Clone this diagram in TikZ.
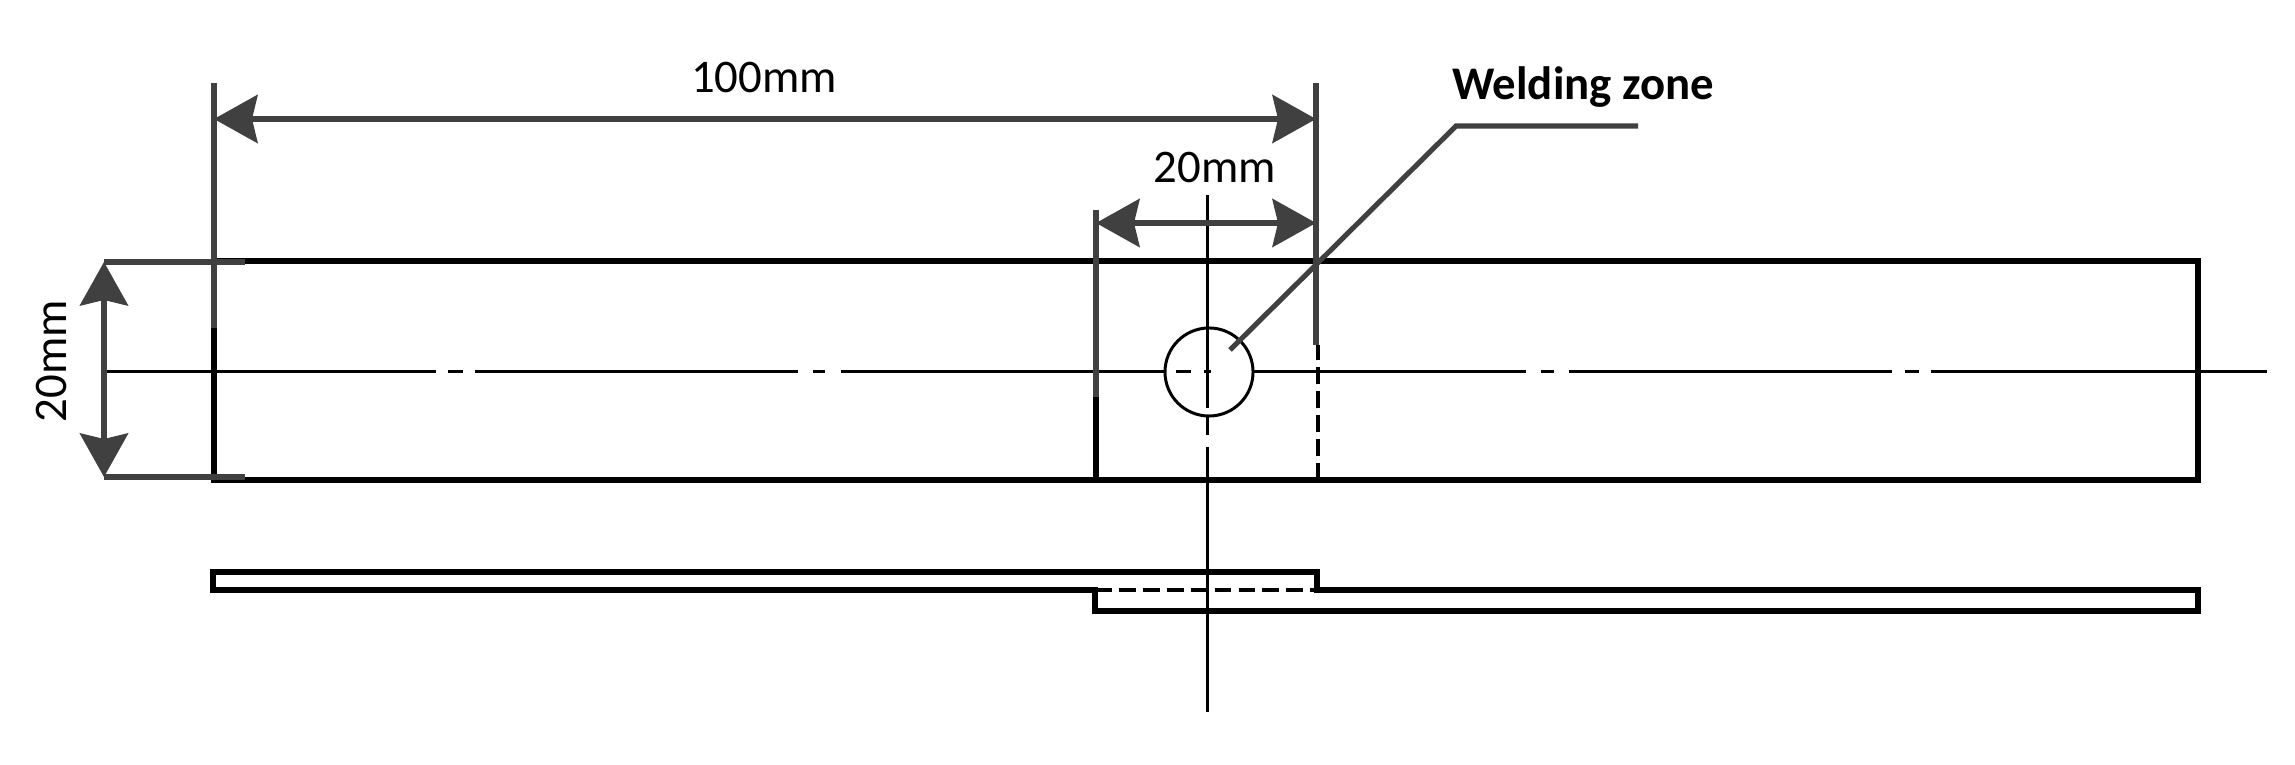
\documentclass[tikz,border=0pt]{standalone}
\usepackage{fontspec}
\setmainfont{Carlito}
\usetikzlibrary{arrows.meta}
\tikzset{
	>={Stealth[length=12.4pt, width=13.7pt, inset=1.6pt]},
	plate/.style={line width=1.7pt, black, line join=miter},
	hidden/.style={line width=0.9pt, black, dash pattern=on 4.8pt off 2pt},
	axis/.style={line width=0.85pt, black},
	dim/.style={line width=1.45pt, draw=dimgrey},
	dimtext/.style={inner sep=0pt, font=\fontsize{13.3}{16}\selectfont},
	spot/.style={circle, draw=black, line width=0.85pt, minimum size=0.88cm, inner sep=0pt}
}
\definecolor{dimgrey}{HTML}{404040}
\begin{document}
\begin{tikzpicture}[x=0.01cm, y=-0.01cm]
		\useasboundingbox (0,0) rectangle (2295,765);
		\coordinate (topleft)    at (214,261);
		\coordinate (topright)   at (2198,261);
		\coordinate (botright)   at (2198,480);
		\coordinate (botleft)    at (214,480);
		\coordinate (lapleft)    at (1096,480);
		\coordinate (lapright)   at (1318,480);
		\coordinate (side1)      at (213,572);
		\coordinate (side2)      at (1317,572);
		\coordinate (side3)      at (1317,590);
		\coordinate (side4)      at (2198,590);
		\coordinate (side5)      at (2198,611);
		\coordinate (side6)      at (1095,611);
		\coordinate (side7)      at (1095,590);
		\coordinate (side8)      at (213,590);
		% plan view
		\draw[plate] (topleft) -- (topright) -- (botright) -- (botleft) -- cycle;
		\draw[plate] (lapleft) -- (1096,397);
		\draw[hidden] (lapright) -- (1318,345);
		% side view
		\draw[plate] (side1) -- (side2) -- (side3) -- (side4) -- (side5) -- (side6) -- (side7) -- (side8) -- cycle;
		\draw[hidden] (side7) -- (side3);
		% axes
		\node[spot] (weld) at (1209,372) {};
		\draw[axis] (107,372) -- (436,372) (448,372) -- (463,372) (475,372) -- (798,372) (813,372) -- (825,372) (841,372) -- (1165,372);
		\draw[axis] (1176,372) -- (1191,372) (1204,372) -- (1211,372);
		\draw[axis] (1253,372) -- (1526,372) (1541,372) -- (1554,372) (1569,372) -- (1892,372) (1905,372) -- (1919,372) (1931,372) -- (2267,372);
		\draw[axis] (1207,195) -- (1207,408) (1207,417) -- (1207,435) (1207,447) -- (1207,712);
		% dimensions
		\coordinate (ext1a) at (214,83);
		\coordinate (ext1b) at (214,328);
		\coordinate (ext2a) at (1316,83);
		\coordinate (ext2b) at (1316,345);
		\coordinate (ext3a) at (1096,210);
		\coordinate (ext3b) at (1096,397);
		\coordinate (ext4a) at (104,262);
		\coordinate (ext4b) at (245,262);
		\coordinate (ext5a) at (104,477);
		\coordinate (ext5b) at (245,477);
		\draw[dim] (ext1a) -- (ext1b);
		\draw[dim] (ext2a) -- (ext2b);
		\draw[dim] (ext3a) -- (ext3b);
		\draw[dim] (ext4a) -- (ext4b);
		\draw[dim] (ext5a) -- (ext5b);
		\draw[dim, <->] (214,119) -- node[dimtext, yshift=0.41cm, xshift=-0.01cm](length){100mm} (1316,119);
		\draw[dim, <->] (1096,223) -- node[dimtext, yshift=0.55cm, xshift=0.09cm](overlap){20mm} (1316,223);
		\draw[dim, <->] (ext4a) -- node[dimtext, rotate=90, xshift=0.085cm, yshift=0.52cm, anchor=center](width){20mm} (ext5a);
		% leader
		\coordinate (leadstart) at (1230,350);
		\coordinate (leadknee) at (1456,126);
		\coordinate (leadend) at (1638,126);
		\draw[dim] (leadstart) -- (leadknee) -- (leadend);
		\node[dimtext, font=\fontsize{13.3}{16}\selectfont\bfseries, anchor=center](zone) at (1583,87){Welding zone};
	\end{tikzpicture}
\end{document}
